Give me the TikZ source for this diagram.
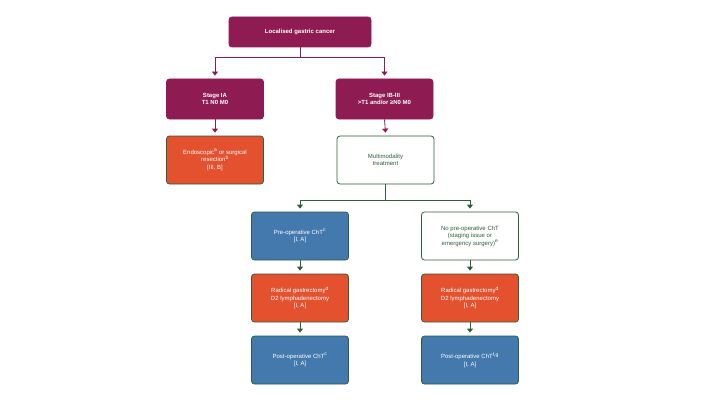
\documentclass[tikz,border=0pt]{standalone}
\usepackage{fontspec}
\setmainfont{Liberation Sans}
\usetikzlibrary{arrows.meta}
\definecolor{mar}{HTML}{8E1B52}
\definecolor{org}{HTML}{E4512F}
\definecolor{blu}{HTML}{4479AE}
\definecolor{grn}{HTML}{2E5E3B}
\begin{document}
\begin{tikzpicture}[x=1pt,y=-1pt,
 bx/.style={rounded corners=3pt,minimum width=97pt,minimum height=48pt,align=center,font=\fontsize{6}{7.5}\selectfont,text=white,draw=grn,line width=0.8pt,inner sep=1pt},
 mr/.style={bx,fill=mar,draw=mar,font=\fontsize{6}{7.5}\selectfont\bfseries},
 ob/.style={bx,fill=org},
 bb/.style={bx,fill=blu},
 wb/.style={bx,fill=white,text=grn},
 am/.style={draw=mar,line width=0.8pt,-{Triangle[length=4pt,width=6pt]}},
 ag/.style={draw=grn,line width=0.8pt,-{Triangle[length=4pt,width=6pt]}}]
\useasboundingbox (0,0) rectangle (702,404);
\node[mr,minimum width=142pt,minimum height=30pt] (top) at (300,32) {Localised gastric cancer};
\node[mr,minimum height=40pt] (ia) at (215,99) {Stage IA\\T1 N0 M0};
\node[mr,minimum height=40pt] (ib) at (384.5,99) {Stage IB-III\\>T1 and/or ≥N0 M0};
\node[ob] (endo) at (215,160) {Endoscopic\textsuperscript{a} or surgical\\resection\textsuperscript{b}\\{[III, B]}};
\node[wb] (multi) at (385.5,160) {Multimodality\\treatment};
\node[bb] (pre) at (300,236) {Pre-operative ChT\textsuperscript{c}\\{[I, A]}};
\node[wb] (nopre) at (470,236) {No pre-operative ChT\\(staging issue or\\emergency surgery)\textsuperscript{e}};
\node[ob] (rg1) at (300,298) {Radical gastrectomy\textsuperscript{d}\\D2 lymphadenectomy\\{[I, A]}};
\node[ob] (rg2) at (470,298) {Radical gastrectomy\textsuperscript{d}\\D2 lymphadenectomy\\{[I, A]}};
\node[bb] (po1) at (300,360) {Post-operative ChT\textsuperscript{c}\\{[I, A]}};
\node[bb] (po2) at (470,360) {Post-operative ChT\textsuperscript{f,g}\\{[I, A]}};
\coordinate (j1) at (300,57);
\coordinate (j2) at (385.5,200);
\draw[am] (top.south) -- (j1) -| ([yshift=3pt]ia.north);
\draw[am] (j1) -| ([yshift=3pt]ib.north);
\draw[am] (ia.south) -- ([yshift=3pt]endo.north);
\draw[am] (ib.south) -- ([yshift=3pt]multi.north);
\draw[ag] (multi.south) -- (j2) -| ([yshift=3pt]pre.north);
\draw[ag] (j2) -| ([yshift=3pt]nopre.north);
\draw[ag] (pre.south) -- ([yshift=3pt]rg1.north);
\draw[ag] (nopre.south) -- ([yshift=3pt]rg2.north);
\draw[ag] (rg1.south) -- ([yshift=3pt]po1.north);
\draw[ag] (rg2.south) -- ([yshift=3pt]po2.north);
\end{tikzpicture}
\end{document}
